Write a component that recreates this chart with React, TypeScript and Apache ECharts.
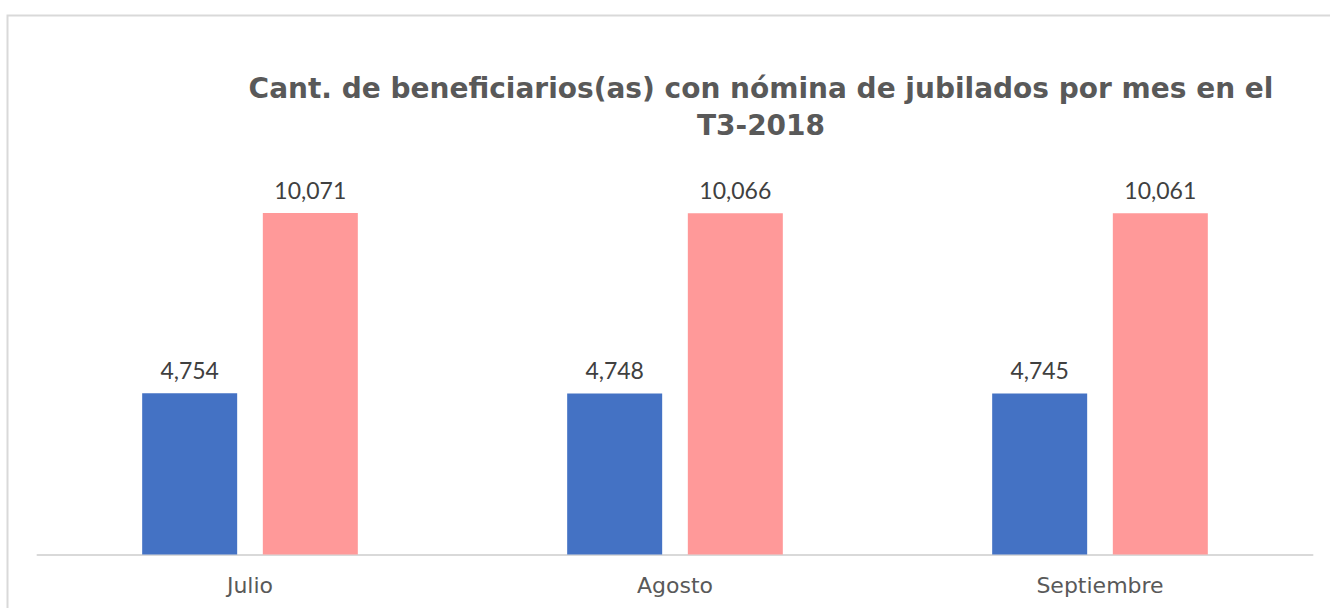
import React, { useEffect, useRef } from "react";
import * as echarts from "echarts";

const categories = ["Julio", "Agosto", "Septiembre"];
const seriesA = [4754, 4748, 4745];
const seriesB = [10071, 10066, 10061];
const titleText = "Cant. de beneficiarios(as) con nómina de jubilados por mes en el\nT3-2018";

export default function App() {
  const ref = useRef<HTMLDivElement>(null);
  useEffect(() => {
    const chart = echarts.init(ref.current!, null, { renderer: "svg" });
    const fmt = (p: any) => Number(p.value).toLocaleString("en-US");
    const labelStyle = {
      show: true,
      position: "top",
      distance: 12,
      formatter: fmt,
      fontFamily: "Lato",
      fontSize: 23,
      color: "#404040",
    };
    chart.setOption({
      animation: false,
      backgroundColor: "#ffffff",
      graphic: [
        {
          type: "rect",
          shape: { x: 7.5, y: 15.5, width: 1340, height: 620 },
          style: { fill: "none", stroke: "#d9d9d9", lineWidth: 2 },
          z: -1,
        },
      ],
      title: {
        text: titleText,
        left: 756,
        top: 65,
        textAlign: "center",
        textStyle: {
          fontFamily: "DejaVu Sans",
          fontWeight: "bold",
          fontSize: 28,
          lineHeight: 37,
          color: "#595959",
        },
      },
      grid: { left: 37.5, right: 17.5, top: 147.6, bottom: 53.5 },
      xAxis: {
        type: "category",
        data: categories,
        axisLine: { lineStyle: { color: "#d9d9d9", width: 2 } },
        axisTick: { show: false },
        axisLabel: {
          fontFamily: "DejaVu Sans",
          fontSize: 22,
          color: "#595959",
          margin: 20,
        },
      },
      yAxis: {
        type: "value",
        min: 0,
        max: 12000,
        show: false,
        splitLine: { show: false },
      },
      series: [
        {
          type: "bar",
          data: seriesA,
          barWidth: 95,
          barGap: "27%",
          itemStyle: { color: "#4472C4" },
          label: labelStyle,
        },
        {
          type: "bar",
          data: seriesB,
          barWidth: 95,
          itemStyle: { color: "#FF9999" },
          label: labelStyle,
        },
      ],
    });
    return () => chart.dispose();
  }, []);
  return (
    <div
      ref={ref}
      style={{ position: "fixed", left: 0, top: 0, width: 1330, height: 608 }}
    />
  );
}
